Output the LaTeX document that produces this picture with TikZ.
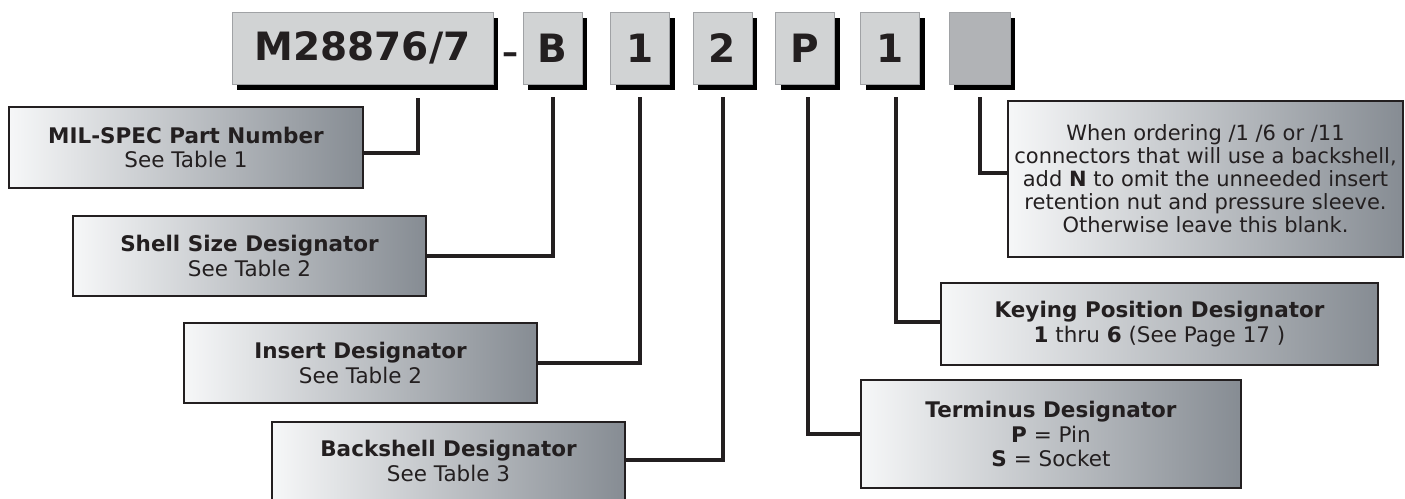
\documentclass[tikz,border=0pt]{standalone}
\usepackage{fontspec}
\setmainfont{DejaVu Sans}
\usepackage{tikz}
\usetikzlibrary{shadows}
\definecolor{ink}{RGB}{35,31,32}
\definecolor{partfill}{RGB}{209,211,212}
\definecolor{partrim}{RGB}{160,162,165}
\definecolor{blankfill}{RGB}{177,179,182}
\definecolor{labelL}{RGB}{246,247,248}
\definecolor{labelR}{RGB}{134,140,147}

\begin{document}
\begin{tikzpicture}[x=1pt,y=-1pt,
	part/.style={draw=partrim,line width=1pt,fill=partfill,minimum height=72pt,minimum width=59pt,inner sep=0pt,outer sep=0pt,text=ink,font=\fontsize{39}{39}\selectfont\bfseries,
		drop shadow={shadow xshift=5pt,shadow yshift=-6pt,fill=black,opacity=1}},
	label/.style={draw=ink,line width=2pt,left color=labelL,right color=labelR,minimum height=80pt,minimum width=353pt,inner sep=0pt,outer sep=0pt,align=center,text=ink,font=\fontsize{21.5}{24.5}\selectfont},
	lead/.style={draw=ink,line width=4pt,line join=miter}]
	\useasboundingbox[fill=white] (0,0) rectangle (1405,498);
	
	\node[part,minimum width=261pt] (pM) at (362.5,48) {M28876/7};
	\node[anchor=base,text=ink,font=\fontsize{32}{32}\selectfont\bfseries,inner sep=0pt] (dash) at (510,63) {–};
	\node[part] (pB) at (552.5,48) {B};
	\node[part] (pI) at (640,48) {1};
	\node[part] (pBk) at (722.5,48) {2};
	\node[part] (pT) at (805,48) {P};
	\node[part] (pK) at (890,48) {1};
	\node[part,fill=blankfill,minimum width=61pt] (pN) at (979.5,48) {};
	
	\node[label,minimum width=354pt,minimum height=81pt] (milspec) at (186,147.5) {\textbf{MIL-SPEC Part Number}\\See Table 1};
	\node[label] (shell) at (249.5,256) {\textbf{Shell Size Designator}\\See Table 2};
	\node[label] (insert) at (360.5,363) {\textbf{Insert Designator}\\See Table 2};
	\node[label,minimum height=78pt] (backshell) at (448.5,461) {\textbf{Backshell Designator}\\See Table 3};
	\node[label,minimum width=437pt,minimum height=82pt] (keying) at (1159.5,324) {\textbf{Keying Position Designator}\\\textbf{1} thru \textbf{6} (See Page 17 )};
	\node[label,minimum width=380pt,minimum height=108pt] (terminus) at (1051,434) {\textbf{Terminus Designator}\\\textbf{P} = Pin\\\textbf{S} = Socket};
	\node[label,minimum width=395pt,minimum height=156pt,font=\fontsize{21}{23}\selectfont] (nbox) at (1205.5,179) {When ordering /1 /6 or /11\\connectors that will use a backshell,\\add \textbf{N} to omit the unneeded insert\\retention nut and pressure sleeve.\\Otherwise leave this blank.};
	
	\draw[lead] ([xshift=55.5pt,yshift=-14pt]pM.south) |- ([yshift=-5.5pt]milspec.east);
	\draw[lead] ([yshift=-13pt]pB.south) |- (shell.east);
	\draw[lead] ([yshift=-13pt]pI.south) |- (insert.east);
	\draw[lead] ([yshift=-13pt]pBk.south) |- ([yshift=1pt]backshell.east);
	\draw[lead] ([xshift=3pt,yshift=-13pt]pT.south) |- (terminus.west);
	\draw[lead] ([xshift=6pt,yshift=-13pt]pK.south) |- ([yshift=2pt]keying.west);
	\draw[lead] ([yshift=-13pt]pN.south) |- ([yshift=6pt]nbox.west);
\end{tikzpicture}
\end{document}
